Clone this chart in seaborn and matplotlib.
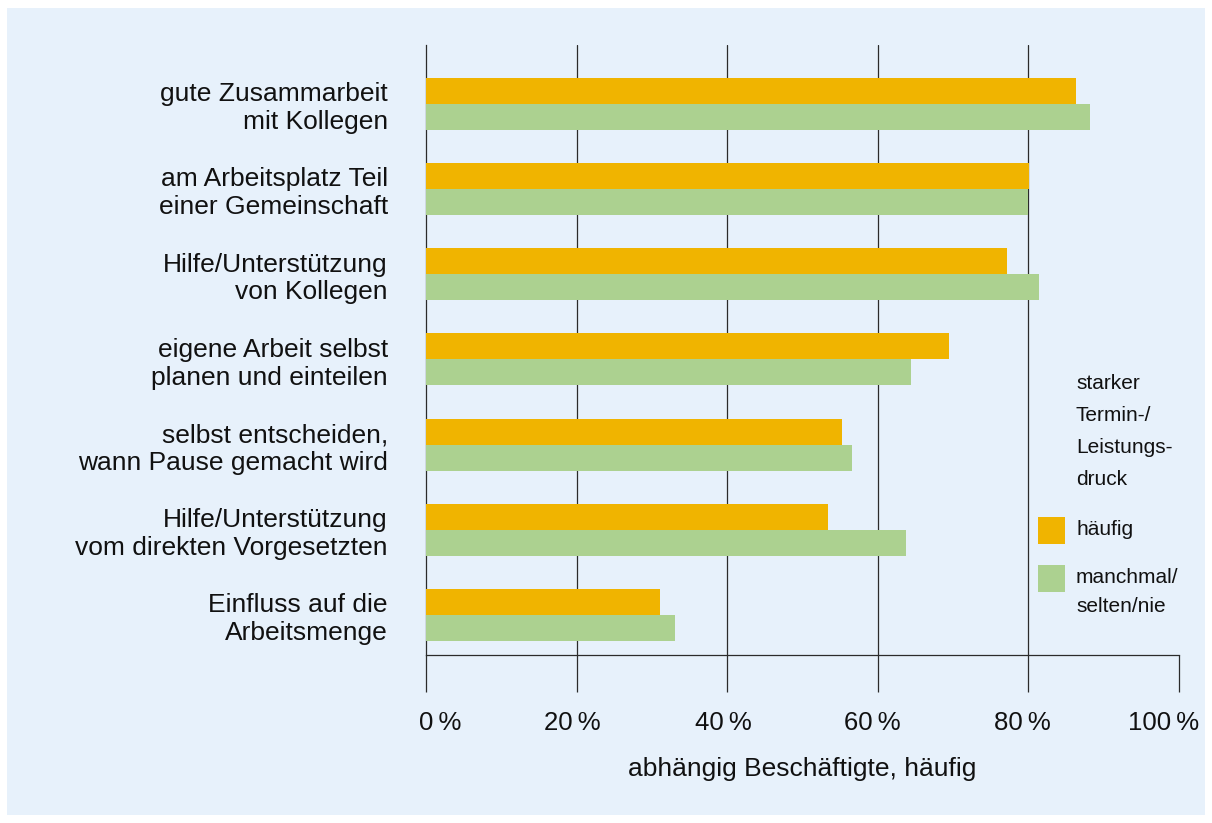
import matplotlib
matplotlib.use("Agg")
import matplotlib.pyplot as plt
from matplotlib.patches import Rectangle
from matplotlib.transforms import ScaledTranslation
import seaborn as sns
import pandas as pd

# Survey items (two-line labels) and shares in percent
items = [
    "gute Zusammarbeit\nmit Kollegen",
    "am Arbeitsplatz Teil\neiner Gemeinschaft",
    "Hilfe/Unterstützung\nvon Kollegen",
    "eigene Arbeit selbst\nplanen und einteilen",
    "selbst entscheiden,\nwann Pause gemacht wird",
    "Hilfe/Unterstützung\nvom direkten Vorgesetzten",
    "Einfluss auf die\nArbeitsmenge",
]
haeufig = [86.3, 80.1, 77.2, 69.5, 55.2, 53.4, 31.1]
manchmal = [88.2, 79.9, 81.4, 64.4, 56.6, 63.7, 33.1]
groups = ["häufig", "manchmal/\nselten/nie"]
legend_title = ["starker", "Termin-/", "Leistungs-", "druck"]
x_ticks = [0, 20, 40, 60, 80, 100]
x_label = "abhängig Beschäftigte, häufig"

ORANGE = "#F0B400"
GREEN = "#ACD190"
PANEL = "#E7F1FB"
LINE = "#2b2b2b"
TEXT = "#111111"

df = pd.DataFrame({
    "item": items * 2,
    "value": haeufig + manchmal,
    "group": [groups[0]] * len(items) + [groups[1]] * len(items),
})

sns.set_theme(style="white")
plt.rcParams["font.family"] = ["Liberation Sans", "DejaVu Sans"]

W, H = 1212, 823
fig = plt.figure(figsize=(W / 100, H / 100), dpi=100)
fig.patch.set_facecolor("white")


def fx(x):
    return x / W


def fy(y):
    return 1 - y / H


# light blue panel behind everything
fig.patches.append(Rectangle((fx(7), fy(815)), (1205 - 7) / W, (815 - 8) / H,
                             transform=fig.transFigure, facecolor=PANEL,
                             edgecolor="none", zorder=-10))

ax = fig.add_axes([fx(426), fy(655), (1179 - 426) / W, (655 - 45) / H])
ax.set_facecolor("none")

sns.barplot(data=df, y="item", x="value", hue="group", orient="h",
            palette=[ORANGE, GREEN], width=0.61, saturation=1,
            legend=False, ax=ax, zorder=3)
for p in ax.patches:
    p.set_edgecolor("none")

ax.set_xlim(0, 100)
ax.set_ylim(6.47, -0.69)

# vertical guides at the inner ticks
for xv in x_ticks[1:-1]:
    ax.axvline(xv, color=LINE, lw=0.9, zorder=1)

for s in ["top", "right"]:
    ax.spines[s].set_visible(False)
for s in ["left", "bottom"]:
    ax.spines[s].set_color(LINE)
    ax.spines[s].set_linewidth(0.9)

ax.set_xticks(x_ticks)
ax.set_xticklabels([f"{v}\u2009%" for v in x_ticks], fontsize=18.5, color=TEXT)
ax.tick_params(axis="x", direction="out", length=26.6, width=0.9, color=LINE,
               pad=13.5, bottom=True)
# nudge the percent labels so the end labels stay inside the panel
label_shift_px = [14, -4.5, -3.5, -5.5, -6, -15]
for lab, dx in zip(ax.get_xticklabels(), label_shift_px):
    lab.set_transform(lab.get_transform()
                      + ScaledTranslation(dx / 100, 0, fig.dpi_scale_trans))

ax.tick_params(axis="y", length=0, pad=27.4)
for lab in ax.get_yticklabels():
    lab.set_fontsize(19)
    lab.set_color(TEXT)
    lab.set_horizontalalignment("right")
    lab.set_multialignment("right")

ax.set_ylabel("")
ax.set_xlabel(x_label, fontsize=19, color=TEXT, labelpad=16)

# legend block on the right
for i, line in enumerate(legend_title):
    fig.text(fx(1076), fy(389 + 32 * i), line, fontsize=15, color=TEXT,
             ha="left", va="baseline")
fig.patches.append(Rectangle((fx(1038), fy(544)), 27 / W, 27 / H,
                             transform=fig.transFigure, facecolor=ORANGE,
                             edgecolor="none", zorder=2))
fig.patches.append(Rectangle((fx(1038), fy(592)), 27 / W, 27 / H,
                             transform=fig.transFigure, facecolor=GREEN,
                             edgecolor="none", zorder=2))
fig.text(fx(1076), fy(535), groups[0], fontsize=15, color=TEXT,
         ha="left", va="baseline")
for i, line in enumerate(groups[1].split("\n")):
    fig.text(fx(1076), fy(583 + 29 * i), line, fontsize=15, color=TEXT,
             ha="left", va="baseline")

fig.savefig("out.png", dpi=100)
